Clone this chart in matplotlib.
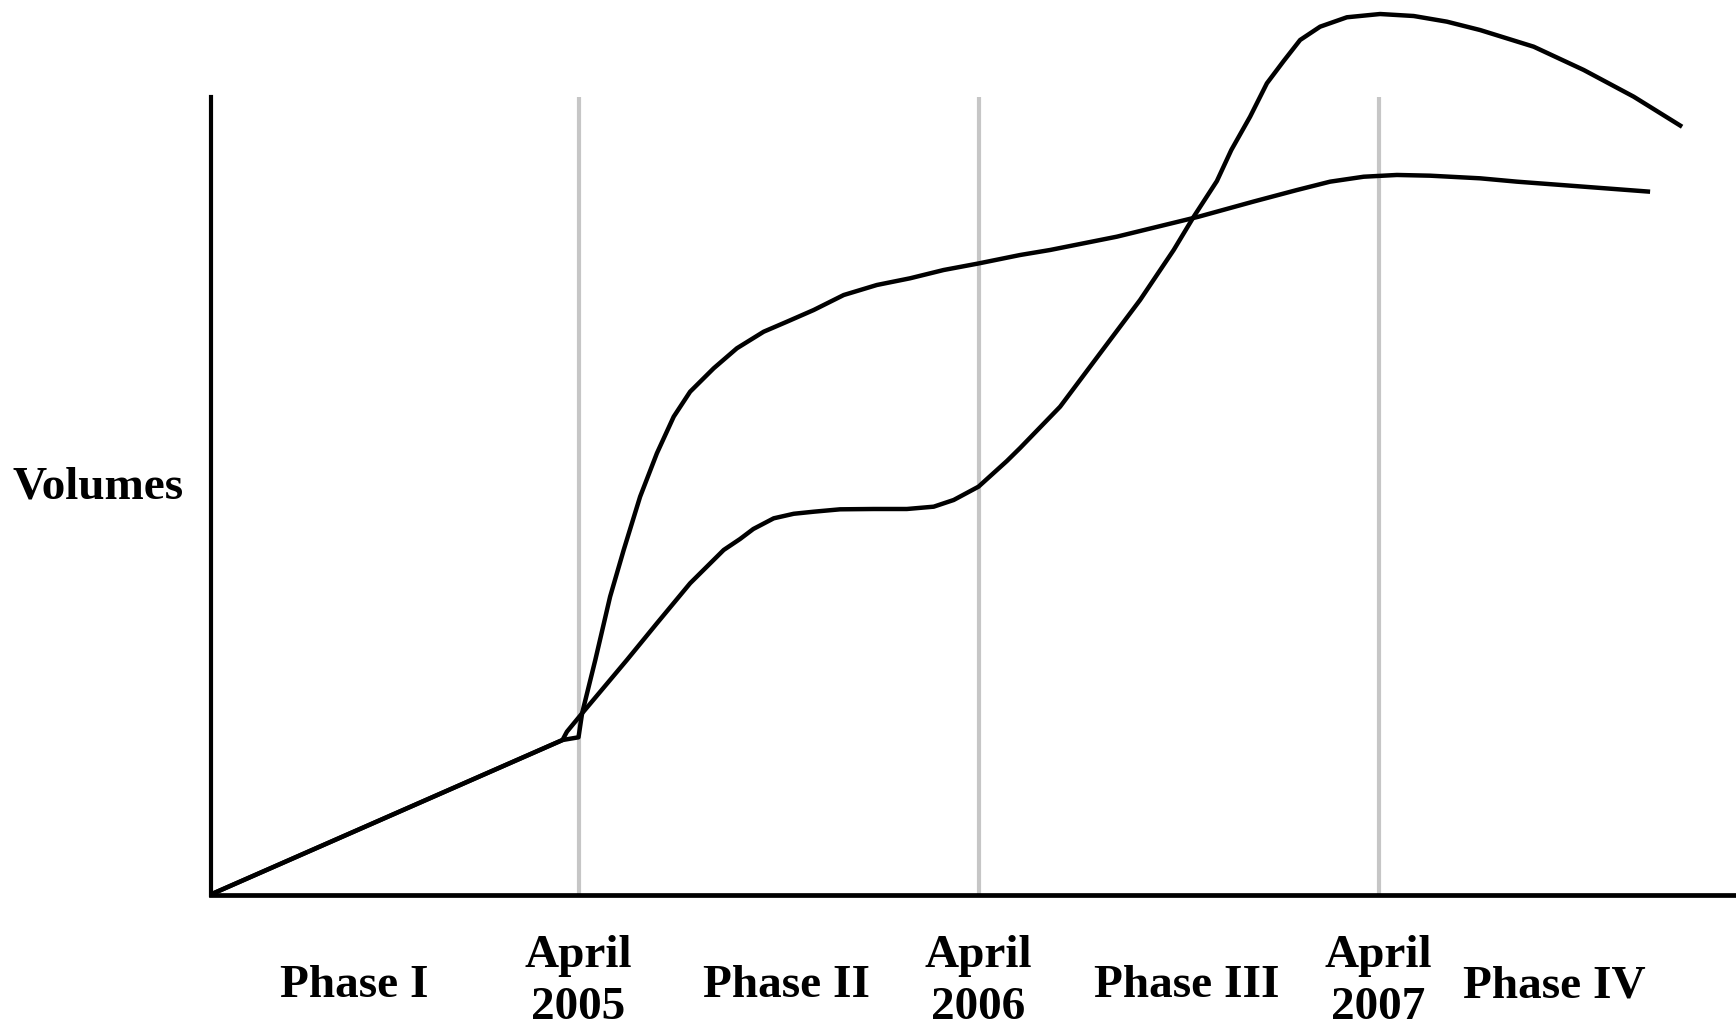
import matplotlib
matplotlib.use("Agg")
import matplotlib.pyplot as plt

# ==============================
# DATA (x in years, y as volume index, axis top = 100)
# ==============================

# shared start, up to just before April 2005
common_x = [2004.33, 2005.21]
common_y = [0.0, 19.39]

# curve that jumps at April 2005, then flattens out
fast_x = [2005.25, 2005.259, 2005.292, 2005.329, 2005.363, 2005.404, 2005.446,
          2005.488, 2005.529, 2005.588, 2005.646, 2005.713, 2005.771, 2005.838,
          2005.913, 2005.996, 2006.079, 2006.163, 2006.249, 2006.354, 2006.429,
          2006.596, 2006.80, 2006.938, 2007.046, 2007.129, 2007.213, 2007.296,
          2007.379, 2007.504, 2007.596, 2007.763, 2007.929]
fast_y = [19.73, 22.74, 29.43, 37.37, 43.23, 49.91, 55.36,
          59.95, 63.08, 66.02, 68.53, 70.61, 71.86, 73.33,
          75.21, 76.47, 77.31, 78.35, 79.16, 80.23, 80.86,
          82.53, 85.03, 86.94, 88.38, 89.43, 90.05, 90.27,
          90.18, 89.85, 89.43, 88.80, 88.17]

# curve that grows in steps, peaks after April 2007
slow_x = [2005.221, 2005.259, 2005.371, 2005.446, 2005.529, 2005.613, 2005.654,
          2005.687, 2005.738, 2005.788, 2005.838, 2005.904, 2005.988, 2006.071,
          2006.138, 2006.188, 2006.25, 2006.321, 2006.354, 2006.454, 2006.554,
          2006.654, 2006.738, 2006.788, 2006.846, 2006.882, 2006.929, 2006.971,
          2007.013, 2007.054, 2007.104, 2007.171, 2007.254, 2007.338, 2007.421,
          2007.504, 2007.638, 2007.763, 2007.888, 2008.009]
slow_y = [20.43, 22.74, 29.43, 34.03, 39.05, 43.23, 44.61,
          45.86, 47.20, 47.77, 48.03, 48.33, 48.37, 48.37,
          48.66, 49.50, 51.17, 54.39, 56.02, 61.20, 67.90,
          74.59, 80.86, 85.03, 89.51, 93.40, 97.58, 101.77,
          104.57, 107.20, 108.87, 110.05, 110.46, 110.21, 109.50,
          108.45, 106.36, 103.44, 100.09, 96.32]

milestones = [2005.25, 2006.25, 2007.25]
milestone_labels = ["April\n2005", "April\n2006", "April\n2007"]
phase_x = [2004.69, 2005.77, 2006.77, 2007.69]
phase_labels = ["Phase I", "Phase II", "Phase III", "Phase IV"]

# ==============================
# FIGURE
# ==============================

W, H = 1736, 1026
fig = plt.figure(figsize=(W / 100, H / 100), dpi=100)
ax = fig.add_axes([210.5 / W, (H - 894.6) / H, 1525.5 / W, 894.6 / H])
ax.set_xlim(common_x[0], common_x[0] + 1525.5 / 400)
ax.set_ylim(0, 894.6 / 7.972)

for s in ["top", "right"]:
    ax.spines[s].set_visible(False)
ax.spines["left"].set_bounds(0, 100)
ax.spines["left"].set_linewidth(3.0)
ax.spines["bottom"].set_linewidth(3.4)
ax.set_xticks([])
ax.set_yticks([])

ax.vlines(milestones, 0, 100, colors="#c6c6c6", linewidth=3.0, zorder=1)

kw = dict(color="black", linewidth=3.2, solid_capstyle="butt",
          solid_joinstyle="round", clip_on=False, zorder=3)
ax.plot(common_x + fast_x, common_y + fast_y, **kw)
ax.plot(common_x + slow_x, common_y + slow_y, **kw)

font = dict(family="Liberation Serif", fontweight="bold", fontsize=34)
ax.text(2004.048, 51.1, "Volumes", ha="center", va="center",
        clip_on=False, **font)
for x, lab in zip(phase_x, phase_labels):
    ax.text(x, -11.5, lab, ha="center", va="center", clip_on=False, **font)
for x, lab in zip(milestones, milestone_labels):
    ax.text(x, -11.0, lab, ha="center", va="center", linespacing=1.3,
            clip_on=False, **font)

fig.savefig("out.png", dpi=100)
